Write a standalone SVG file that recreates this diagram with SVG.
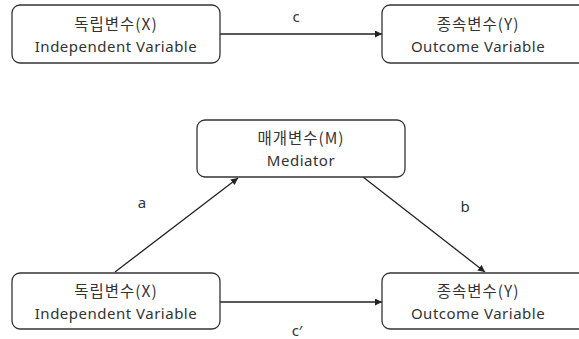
<svg xmlns="http://www.w3.org/2000/svg" width="579" height="339" viewBox="0 0 579 339">
<style>
.box{fill:#fff;stroke:#333;stroke-width:1.3}
.t{font-family:"Noto Sans","Noto Sans CJK KR",sans-serif;font-size:15px;letter-spacing:0.5px;fill:#333;text-anchor:middle}
.k{font-family:"Noto Sans CJK KR","Noto Sans",sans-serif;font-size:15.5px;letter-spacing:1px;fill:#333;text-anchor:middle}
.lbl{font-family:"Noto Sans","Noto Sans CJK KR",sans-serif;font-size:15px;fill:#333;text-anchor:middle}
.edge{stroke:#222;stroke-width:1.3;fill:none;marker-end:url(#arr)}
</style>
<defs>
<marker id="arr" viewBox="0 0 10 10" refX="10" refY="5" markerWidth="7" markerHeight="7" orient="auto" markerUnits="userSpaceOnUse">
<path d="M0,0 L10,5 L0,10 z" fill="#222"/>
</marker>
</defs>
<rect width="579" height="339" fill="#fff"/>
<g id="connectors">
<line class="edge" x1="220" y1="34" x2="382" y2="34"/>
<line class="edge" x1="115" y1="272" x2="238" y2="178"/>
<line class="edge" x1="363" y1="177" x2="485" y2="272"/>
<line class="edge" x1="220" y1="302" x2="382" y2="302"/>
<text class="lbl" x="296" y="22">c</text>
<text class="lbl" x="142" y="208">a</text>
<text class="lbl" x="465" y="212">b</text>
<text class="lbl" x="297" y="336">c′</text>
</g>
<g id="x-top">
<rect class="box" x="12" y="5" width="208" height="58" rx="8"/>
<text class="k" x="116" y="30">독립변수(X)</text>
<text class="t" x="116" y="52">Independent Variable</text>
</g>
<g id="y-top">
<rect class="box" x="382" y="5" width="220" height="58" rx="8"/>
<text class="k" x="478" y="30">종속변수(Y)</text>
<text class="t" x="478" y="52">Outcome Variable</text>
</g>
<g id="m">
<rect class="box" x="197" y="120" width="208" height="57" rx="8"/>
<text class="k" x="301" y="144">매개변수(M)</text>
<text class="t" x="301" y="166">Mediator</text>
</g>
<g id="x-bottom">
<rect class="box" x="12" y="273" width="208" height="56" rx="8"/>
<text class="k" x="116" y="297">독립변수(X)</text>
<text class="t" x="116" y="319">Independent Variable</text>
</g>
<g id="y-bottom">
<rect class="box" x="382" y="273" width="220" height="56" rx="8"/>
<text class="k" x="478" y="297">종속변수(Y)</text>
<text class="t" x="478" y="319">Outcome Variable</text>
</g>
</svg>
